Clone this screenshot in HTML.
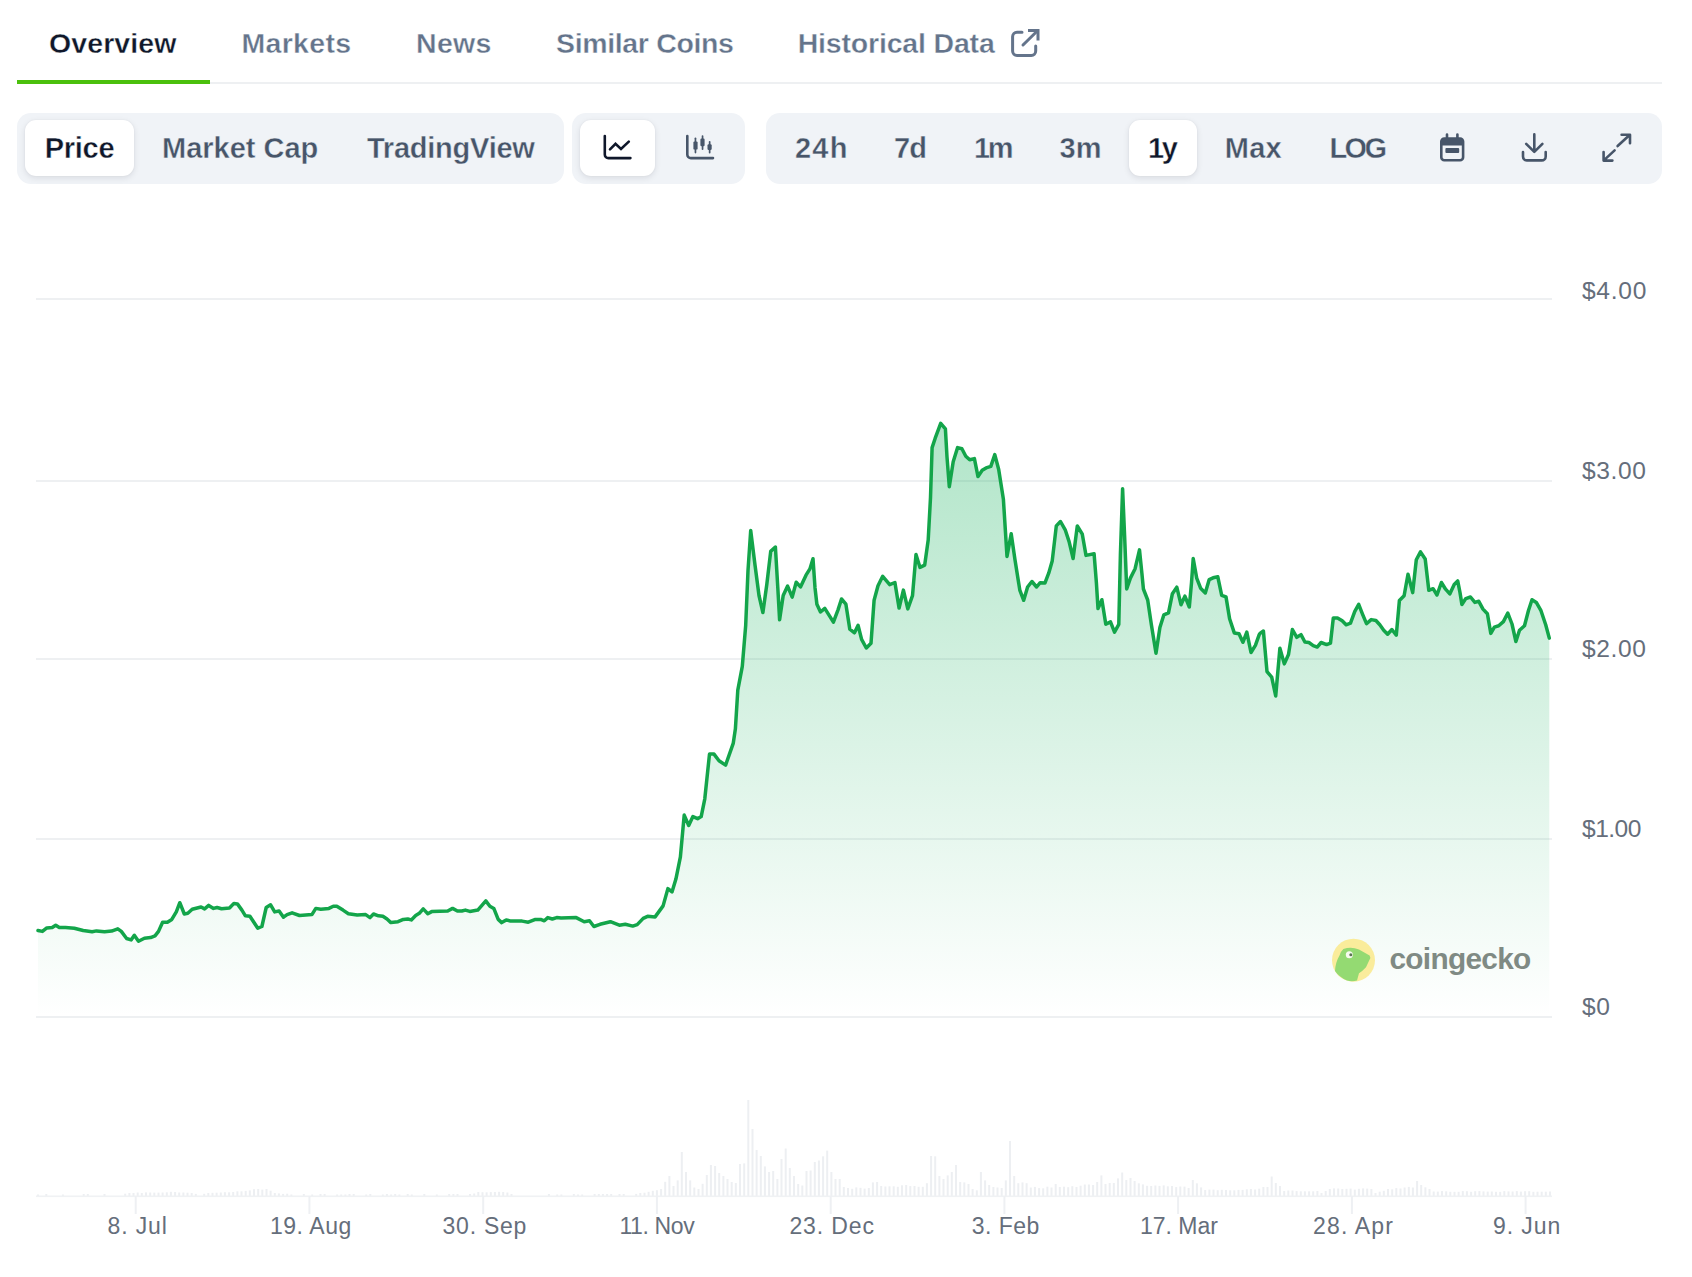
<!DOCTYPE html>
<html><head><meta charset="utf-8">
<style>
html,body{margin:0;padding:0;background:#fff;}
body{width:1692px;height:1277px;position:relative;overflow:hidden;font-family:"Liberation Sans",sans-serif;}
.t{position:absolute;white-space:nowrap;line-height:1;}
.tab{font-size:28.5px;font-weight:700;color:#64748b;top:28.9px;}
.tab.act{color:#0f172a;}
.tab{-webkit-text-stroke:.38px #fff;}
.btn{font-size:29px;font-weight:700;color:#475569;top:134px;}
.btn{-webkit-text-stroke:.38px #f0f3f7;}
.btn.act{color:#0f172a;-webkit-text-stroke:.38px #fff;}
.grp{position:absolute;background:#f0f3f7;border-radius:14px;top:112.6px;height:71.2px;}
.pill{position:absolute;background:#fff;border-radius:11px;top:120px;height:56px;box-shadow:0 2px 6px rgba(15,23,42,.10),0 0 2px rgba(15,23,42,.06);}
.yl{font-size:23.2px;color:#656e7b;left:1581.6px;transform:scaleX(1.06);transform-origin:0 0;}
.xl{font-size:23px;color:#656e7b;top:1214.6px;}
svg{position:absolute;left:0;top:0;}
</style></head><body>
<!-- tabs -->
<div style="position:absolute;left:17px;top:82px;width:1645px;height:2px;background:#eef0f2"></div>
<div style="position:absolute;left:17px;top:80px;width:193px;height:4px;background:#4bc00d"></div>
<div class="t tab act" style="left:49px;letter-spacing:.1px">Overview</div>
<div class="t tab" style="left:241.5px;letter-spacing:.3px">Markets</div>
<div class="t tab" style="left:416px;letter-spacing:.3px">News</div>
<div class="t tab" style="left:556px;letter-spacing:-.35px">Similar Coins</div>
<div class="t tab" style="left:797.7px;letter-spacing:-.18px">Historical Data</div>
<!-- groups -->
<div class="grp" style="left:17.4px;width:546.6px"></div>
<div class="grp" style="left:572.4px;width:172.6px"></div>
<div class="grp" style="left:766.2px;width:895.6px"></div>
<div class="pill" style="left:25px;width:109px"></div>
<div class="pill" style="left:580px;width:75px"></div>
<div class="pill" style="left:1129px;width:68px"></div>
<div class="t btn act" style="left:44.8px;letter-spacing:-.3px">Price</div>
<div class="t btn" style="left:162px;letter-spacing:0px">Market Cap</div>
<div class="t btn" style="left:367px;letter-spacing:-.24px">TradingView</div>
<div class="t btn" style="left:795px;letter-spacing:1.2px">24h</div>
<div class="t btn" style="left:894px;letter-spacing:-1px">7d</div>
<div class="t btn" style="left:974px;letter-spacing:-2.4px">1m</div>
<div class="t btn" style="left:1059.5px;letter-spacing:0px">3m</div>
<div class="t btn act" style="left:1148px;letter-spacing:-2.4px">1y</div>
<div class="t btn" style="left:1224.8px;letter-spacing:.25px">Max</div>
<div class="t btn" style="left:1329.5px;letter-spacing:-2.6px">LOG</div>
<!-- y labels -->
<div class="t yl" style="top:280px;letter-spacing:.66px">$4.00</div>
<div class="t yl" style="top:460.2px;letter-spacing:.57px">$3.00</div>
<div class="t yl" style="top:638.1px;letter-spacing:.57px">$2.00</div>
<div class="t yl" style="top:818.3px;letter-spacing:-.5px">$1.00</div>
<div class="t yl" style="top:996.1px;letter-spacing:.5px">$0</div>
<!-- x labels -->
<div class="t xl" style="left:107.6px;letter-spacing:.86px">8. Jul</div>
<div class="t xl" style="left:269.9px;letter-spacing:.57px">19. Aug</div>
<div class="t xl" style="left:442.6px;letter-spacing:.73px">30. Sep</div>
<div class="t xl" style="left:619.4px;letter-spacing:-.37px">11. Nov</div>
<div class="t xl" style="left:789.4px;letter-spacing:.88px">23. Dec</div>
<div class="t xl" style="left:971.7px;letter-spacing:.46px">3. Feb</div>
<div class="t xl" style="left:1139.9px;letter-spacing:0px">17. Mar</div>
<div class="t xl" style="left:1313.1px;letter-spacing:1.15px">28. Apr</div>
<div class="t xl" style="left:1493px;letter-spacing:.92px">9. Jun</div>
<div class="t" style="left:1389.5px;top:943.8px;font-size:29.8px;font-weight:700;letter-spacing:-.7px;color:#838985">coingecko</div>
<svg width="1692" height="1277" viewBox="0 0 1692 1277">
<defs>
<linearGradient id="ag" x1="0" y1="423" x2="0" y2="1017" gradientUnits="userSpaceOnUse">
<stop offset="0" stop-color="#12b05a" stop-opacity=".33"/>
<stop offset="1" stop-color="#12b05a" stop-opacity="0"/>
</linearGradient>
</defs>
<rect x="36" y="298" width="1516" height="2" fill="#eef0f2"/>
<rect x="36" y="480" width="1516" height="2" fill="#eef0f2"/>
<rect x="36" y="658" width="1516" height="2" fill="#eef0f2"/>
<rect x="36" y="838" width="1516" height="2" fill="#eef0f2"/>
<rect x="36" y="1016" width="1516" height="2" fill="#eef0f2"/>

<path d="M38.0 930.5 L42.4 931.4 L46.8 927.9 L52.2 927.5 L55.7 925.2 L59.3 927.5 L65.5 927.5 L74.3 928.2 L83.2 930.5 L92.1 931.8 L96.5 930.9 L104.5 931.8 L111.6 931.1 L117.8 928.8 L121.3 931.4 L126.6 938.5 L131.1 939.9 L134.3 935.3 L138.5 941.2 L144.4 938.2 L150.6 937.6 L155.0 935.9 L158.5 931.4 L162.6 922.2 L167.4 922.2 L171.8 919.4 L176.3 911.9 L179.8 902.7 L184.3 914.0 L187.8 913.3 L192.2 909.3 L201.1 907.0 L204.6 908.9 L208.7 905.4 L213.5 908.4 L217.1 907.5 L221.5 908.7 L229.5 908.0 L233.9 903.4 L237.4 903.9 L241.9 910.1 L245.4 915.8 L249.9 916.3 L257.8 928.2 L261.9 926.5 L266.2 907.5 L270.6 904.8 L274.7 911.9 L279.1 911.0 L283.5 917.2 L287.1 914.6 L292.1 912.8 L299.5 915.5 L311.9 914.6 L315.8 908.4 L320.8 909.3 L328.9 908.4 L333.3 906.2 L336.8 906.2 L343.0 910.1 L348.4 913.7 L357.2 915.1 L365.7 914.6 L370.0 917.6 L373.5 914.0 L378.5 915.8 L382.9 916.3 L387.0 919.0 L390.9 922.6 L398.0 921.7 L403.3 919.4 L407.8 919.0 L411.3 919.9 L415.7 915.5 L419.3 913.3 L423.2 908.9 L427.8 913.7 L431.7 911.6 L447.7 911.0 L452.6 908.4 L457.4 911.0 L461.8 911.0 L465.4 910.1 L469.8 911.4 L477.8 910.1 L485.8 900.9 L489.9 906.2 L493.8 908.4 L498.2 919.4 L501.7 922.6 L506.2 919.9 L510.6 921.1 L522.1 921.1 L528.3 922.2 L535.4 919.4 L540.7 919.4 L544.3 920.8 L547.8 917.6 L552.3 919.0 L556.7 917.6 L561.1 918.1 L576.2 917.6 L584.2 921.7 L589.5 920.8 L593.9 926.5 L600.0 924.3 L610.4 921.7 L619.3 925.2 L625.3 924.3 L632.7 926.1 L637.2 924.6 L643.2 918.4 L647.6 916.3 L655.1 916.9 L663.1 905.9 L667.9 888.6 L672.0 891.9 L675.9 879.1 L680.4 856.8 L684.2 815.1 L688.7 825.5 L692.9 816.6 L697.6 818.7 L701.2 816.6 L704.8 798.8 L709.5 754.1 L714.0 754.1 L719.0 760.7 L725.6 765.1 L733.3 743.1 L735.4 728.8 L737.8 690.1 L742.3 666.3 L745.7 625.3 L748.0 570.5 L750.7 530.5 L755.1 565.8 L759.0 595.5 L762.9 612.5 L766.8 584.6 L770.7 551.4 L775.4 547.0 L777.8 587.7 L779.6 619.8 L783.2 595.5 L787.6 586.1 L792.2 597.1 L796.2 582.2 L800.5 586.9 L806.0 575.2 L809.9 568.9 L813.0 558.7 L815.0 587.7 L816.9 604.2 L820.5 612.0 L824.8 608.4 L829.5 615.9 L833.4 622.2 L838.1 609.6 L841.5 599.0 L845.9 604.2 L849.8 629.2 L854.5 632.8 L858.1 625.3 L861.6 639.4 L866.3 648.0 L871.0 643.3 L874.1 600.2 L878.0 585.8 L882.7 576.3 L889.7 584.6 L894.9 582.5 L899.1 608.1 L903.4 590.1 L907.8 608.9 L912.5 595.6 L916.0 554.4 L920.0 567.4 L924.7 565.1 L928.2 540.0 L930.5 497.7 L932.1 447.6 L935.2 438.2 L940.7 423.3 L945.4 428.8 L947.0 457.0 L949.3 486.7 L953.2 461.7 L957.6 447.6 L961.9 448.8 L965.8 456.2 L969.7 459.8 L974.4 458.6 L978.0 476.6 L982.2 470.3 L986.1 467.9 L990.8 466.4 L994.8 454.6 L998.7 469.5 L1003.4 499.3 L1007.0 556.4 L1011.2 533.7 L1015.1 560.4 L1019.8 590.1 L1023.7 600.3 L1027.6 587.0 L1031.9 581.5 L1036.6 587.0 L1040.2 582.7 L1044.9 583.1 L1048.8 572.9 L1052.2 561.1 L1054.3 543.1 L1056.3 525.9 L1060.5 521.5 L1065.2 529.8 L1069.1 541.6 L1073.1 558.5 L1077.3 525.9 L1082.3 534.2 L1086.0 555.4 L1094.1 553.8 L1096.4 582.8 L1098.0 608.6 L1101.9 599.7 L1105.8 624.3 L1110.5 621.9 L1114.5 632.1 L1118.8 624.3 L1120.4 554.6 L1122.6 488.8 L1124.6 535.8 L1126.7 589.0 L1130.4 578.1 L1135.1 568.7 L1139.5 549.9 L1141.9 573.4 L1143.4 589.0 L1147.7 600.0 L1151.3 624.3 L1156.0 653.2 L1159.9 627.4 L1163.8 614.9 L1168.5 612.8 L1172.4 593.7 L1176.8 587.1 L1181.0 604.7 L1184.9 596.1 L1189.3 607.0 L1191.5 582.8 L1193.2 558.5 L1196.7 578.1 L1200.6 588.2 L1205.3 592.9 L1209.2 579.6 L1213.1 577.8 L1217.8 576.8 L1221.7 595.3 L1226.0 596.9 L1229.6 618.8 L1234.3 632.9 L1239.0 633.7 L1242.9 642.3 L1246.8 632.1 L1251.0 652.5 L1255.4 645.4 L1259.3 634.4 L1260.0 633.4 L1263.4 631.0 L1267.0 671.7 L1271.7 677.2 L1275.7 696.0 L1279.9 648.2 L1284.3 663.9 L1288.5 654.5 L1292.4 629.5 L1296.8 637.3 L1301.0 634.6 L1304.9 642.0 L1308.9 642.5 L1313.2 645.6 L1317.2 647.1 L1321.1 642.5 L1326.6 644.6 L1330.5 643.1 L1333.3 618.0 L1337.5 618.0 L1342.2 620.8 L1346.1 624.8 L1350.5 623.2 L1354.8 611.4 L1358.7 604.4 L1362.6 614.3 L1366.5 623.7 L1371.2 619.6 L1375.9 620.5 L1379.8 624.8 L1383.7 630.2 L1387.6 634.2 L1391.9 629.5 L1396.3 635.2 L1399.4 600.5 L1404.1 595.8 L1408.0 574.2 L1412.7 592.6 L1416.3 559.8 L1420.5 551.9 L1425.2 559.0 L1428.8 590.3 L1433.1 588.7 L1437.0 595.0 L1441.4 582.5 L1445.6 589.2 L1449.8 593.9 L1454.2 584.5 L1457.7 580.9 L1460.0 592.6 L1461.9 604.4 L1465.8 598.6 L1470.5 597.0 L1474.9 602.4 L1478.8 601.3 L1483.0 609.1 L1487.4 613.8 L1490.8 633.4 L1494.4 627.1 L1498.7 625.8 L1503.4 621.6 L1507.8 613.0 L1512.0 624.0 L1515.9 641.5 L1519.5 630.2 L1524.5 625.8 L1528.4 610.7 L1532.0 599.7 L1536.3 602.4 L1541.0 610.7 L1545.7 624.8 L1549.3 638.1 L1549.3 1017 L38.0 1017 Z" fill="url(#ag)"/>
<path d="M38.0 930.5 L42.4 931.4 L46.8 927.9 L52.2 927.5 L55.7 925.2 L59.3 927.5 L65.5 927.5 L74.3 928.2 L83.2 930.5 L92.1 931.8 L96.5 930.9 L104.5 931.8 L111.6 931.1 L117.8 928.8 L121.3 931.4 L126.6 938.5 L131.1 939.9 L134.3 935.3 L138.5 941.2 L144.4 938.2 L150.6 937.6 L155.0 935.9 L158.5 931.4 L162.6 922.2 L167.4 922.2 L171.8 919.4 L176.3 911.9 L179.8 902.7 L184.3 914.0 L187.8 913.3 L192.2 909.3 L201.1 907.0 L204.6 908.9 L208.7 905.4 L213.5 908.4 L217.1 907.5 L221.5 908.7 L229.5 908.0 L233.9 903.4 L237.4 903.9 L241.9 910.1 L245.4 915.8 L249.9 916.3 L257.8 928.2 L261.9 926.5 L266.2 907.5 L270.6 904.8 L274.7 911.9 L279.1 911.0 L283.5 917.2 L287.1 914.6 L292.1 912.8 L299.5 915.5 L311.9 914.6 L315.8 908.4 L320.8 909.3 L328.9 908.4 L333.3 906.2 L336.8 906.2 L343.0 910.1 L348.4 913.7 L357.2 915.1 L365.7 914.6 L370.0 917.6 L373.5 914.0 L378.5 915.8 L382.9 916.3 L387.0 919.0 L390.9 922.6 L398.0 921.7 L403.3 919.4 L407.8 919.0 L411.3 919.9 L415.7 915.5 L419.3 913.3 L423.2 908.9 L427.8 913.7 L431.7 911.6 L447.7 911.0 L452.6 908.4 L457.4 911.0 L461.8 911.0 L465.4 910.1 L469.8 911.4 L477.8 910.1 L485.8 900.9 L489.9 906.2 L493.8 908.4 L498.2 919.4 L501.7 922.6 L506.2 919.9 L510.6 921.1 L522.1 921.1 L528.3 922.2 L535.4 919.4 L540.7 919.4 L544.3 920.8 L547.8 917.6 L552.3 919.0 L556.7 917.6 L561.1 918.1 L576.2 917.6 L584.2 921.7 L589.5 920.8 L593.9 926.5 L600.0 924.3 L610.4 921.7 L619.3 925.2 L625.3 924.3 L632.7 926.1 L637.2 924.6 L643.2 918.4 L647.6 916.3 L655.1 916.9 L663.1 905.9 L667.9 888.6 L672.0 891.9 L675.9 879.1 L680.4 856.8 L684.2 815.1 L688.7 825.5 L692.9 816.6 L697.6 818.7 L701.2 816.6 L704.8 798.8 L709.5 754.1 L714.0 754.1 L719.0 760.7 L725.6 765.1 L733.3 743.1 L735.4 728.8 L737.8 690.1 L742.3 666.3 L745.7 625.3 L748.0 570.5 L750.7 530.5 L755.1 565.8 L759.0 595.5 L762.9 612.5 L766.8 584.6 L770.7 551.4 L775.4 547.0 L777.8 587.7 L779.6 619.8 L783.2 595.5 L787.6 586.1 L792.2 597.1 L796.2 582.2 L800.5 586.9 L806.0 575.2 L809.9 568.9 L813.0 558.7 L815.0 587.7 L816.9 604.2 L820.5 612.0 L824.8 608.4 L829.5 615.9 L833.4 622.2 L838.1 609.6 L841.5 599.0 L845.9 604.2 L849.8 629.2 L854.5 632.8 L858.1 625.3 L861.6 639.4 L866.3 648.0 L871.0 643.3 L874.1 600.2 L878.0 585.8 L882.7 576.3 L889.7 584.6 L894.9 582.5 L899.1 608.1 L903.4 590.1 L907.8 608.9 L912.5 595.6 L916.0 554.4 L920.0 567.4 L924.7 565.1 L928.2 540.0 L930.5 497.7 L932.1 447.6 L935.2 438.2 L940.7 423.3 L945.4 428.8 L947.0 457.0 L949.3 486.7 L953.2 461.7 L957.6 447.6 L961.9 448.8 L965.8 456.2 L969.7 459.8 L974.4 458.6 L978.0 476.6 L982.2 470.3 L986.1 467.9 L990.8 466.4 L994.8 454.6 L998.7 469.5 L1003.4 499.3 L1007.0 556.4 L1011.2 533.7 L1015.1 560.4 L1019.8 590.1 L1023.7 600.3 L1027.6 587.0 L1031.9 581.5 L1036.6 587.0 L1040.2 582.7 L1044.9 583.1 L1048.8 572.9 L1052.2 561.1 L1054.3 543.1 L1056.3 525.9 L1060.5 521.5 L1065.2 529.8 L1069.1 541.6 L1073.1 558.5 L1077.3 525.9 L1082.3 534.2 L1086.0 555.4 L1094.1 553.8 L1096.4 582.8 L1098.0 608.6 L1101.9 599.7 L1105.8 624.3 L1110.5 621.9 L1114.5 632.1 L1118.8 624.3 L1120.4 554.6 L1122.6 488.8 L1124.6 535.8 L1126.7 589.0 L1130.4 578.1 L1135.1 568.7 L1139.5 549.9 L1141.9 573.4 L1143.4 589.0 L1147.7 600.0 L1151.3 624.3 L1156.0 653.2 L1159.9 627.4 L1163.8 614.9 L1168.5 612.8 L1172.4 593.7 L1176.8 587.1 L1181.0 604.7 L1184.9 596.1 L1189.3 607.0 L1191.5 582.8 L1193.2 558.5 L1196.7 578.1 L1200.6 588.2 L1205.3 592.9 L1209.2 579.6 L1213.1 577.8 L1217.8 576.8 L1221.7 595.3 L1226.0 596.9 L1229.6 618.8 L1234.3 632.9 L1239.0 633.7 L1242.9 642.3 L1246.8 632.1 L1251.0 652.5 L1255.4 645.4 L1259.3 634.4 L1260.0 633.4 L1263.4 631.0 L1267.0 671.7 L1271.7 677.2 L1275.7 696.0 L1279.9 648.2 L1284.3 663.9 L1288.5 654.5 L1292.4 629.5 L1296.8 637.3 L1301.0 634.6 L1304.9 642.0 L1308.9 642.5 L1313.2 645.6 L1317.2 647.1 L1321.1 642.5 L1326.6 644.6 L1330.5 643.1 L1333.3 618.0 L1337.5 618.0 L1342.2 620.8 L1346.1 624.8 L1350.5 623.2 L1354.8 611.4 L1358.7 604.4 L1362.6 614.3 L1366.5 623.7 L1371.2 619.6 L1375.9 620.5 L1379.8 624.8 L1383.7 630.2 L1387.6 634.2 L1391.9 629.5 L1396.3 635.2 L1399.4 600.5 L1404.1 595.8 L1408.0 574.2 L1412.7 592.6 L1416.3 559.8 L1420.5 551.9 L1425.2 559.0 L1428.8 590.3 L1433.1 588.7 L1437.0 595.0 L1441.4 582.5 L1445.6 589.2 L1449.8 593.9 L1454.2 584.5 L1457.7 580.9 L1460.0 592.6 L1461.9 604.4 L1465.8 598.6 L1470.5 597.0 L1474.9 602.4 L1478.8 601.3 L1483.0 609.1 L1487.4 613.8 L1490.8 633.4 L1494.4 627.1 L1498.7 625.8 L1503.4 621.6 L1507.8 613.0 L1512.0 624.0 L1515.9 641.5 L1519.5 630.2 L1524.5 625.8 L1528.4 610.7 L1532.0 599.7 L1536.3 602.4 L1541.0 610.7 L1545.7 624.8 L1549.3 638.1" fill="none" stroke="#13a54a" stroke-width="3.5" stroke-linejoin="round" stroke-linecap="round"/>

<g fill="#edeff2">
<rect x="37.0" y="1194.5" width="2" height="1.5"/>
<rect x="45.3" y="1194.0" width="2" height="2.0"/>
<rect x="61.9" y="1194.5" width="2" height="1.5"/>
<rect x="82.7" y="1194.0" width="2" height="2.0"/>
<rect x="86.8" y="1194.0" width="2" height="2.0"/>
<rect x="103.5" y="1194.0" width="2" height="2.0"/>
<rect x="124.2" y="1193.7" width="2" height="2.3"/>
<rect x="128.4" y="1193.0" width="2" height="3.0"/>
<rect x="132.5" y="1193.0" width="2" height="3.0"/>
<rect x="136.7" y="1192.5" width="2" height="3.5"/>
<rect x="140.8" y="1193.0" width="2" height="3.0"/>
<rect x="145.0" y="1192.4" width="2" height="3.6"/>
<rect x="149.2" y="1192.5" width="2" height="3.5"/>
<rect x="153.3" y="1192.6" width="2" height="3.4"/>
<rect x="157.5" y="1192.6" width="2" height="3.4"/>
<rect x="161.6" y="1192.5" width="2" height="3.5"/>
<rect x="165.8" y="1192.3" width="2" height="3.7"/>
<rect x="169.9" y="1191.8" width="2" height="4.2"/>
<rect x="174.1" y="1192.0" width="2" height="4.0"/>
<rect x="178.2" y="1192.5" width="2" height="3.5"/>
<rect x="182.4" y="1192.5" width="2" height="3.5"/>
<rect x="186.5" y="1192.7" width="2" height="3.3"/>
<rect x="190.7" y="1193.0" width="2" height="3.0"/>
<rect x="194.8" y="1193.9" width="2" height="2.1"/>
<rect x="203.2" y="1193.8" width="2" height="2.2"/>
<rect x="207.3" y="1193.0" width="2" height="3.0"/>
<rect x="211.5" y="1192.8" width="2" height="3.2"/>
<rect x="215.6" y="1192.7" width="2" height="3.3"/>
<rect x="219.8" y="1192.5" width="2" height="3.5"/>
<rect x="223.9" y="1192.2" width="2" height="3.8"/>
<rect x="228.1" y="1192.3" width="2" height="3.7"/>
<rect x="232.2" y="1192.0" width="2" height="4.0"/>
<rect x="236.4" y="1191.3" width="2" height="4.7"/>
<rect x="240.5" y="1191.3" width="2" height="4.7"/>
<rect x="244.7" y="1190.9" width="2" height="5.1"/>
<rect x="248.8" y="1190.4" width="2" height="5.6"/>
<rect x="253.0" y="1189.2" width="2" height="6.8"/>
<rect x="257.2" y="1189.0" width="2" height="7.0"/>
<rect x="261.3" y="1189.6" width="2" height="6.4"/>
<rect x="265.5" y="1189.0" width="2" height="7.0"/>
<rect x="269.6" y="1190.7" width="2" height="5.3"/>
<rect x="273.8" y="1193.0" width="2" height="3.0"/>
<rect x="277.9" y="1193.4" width="2" height="2.6"/>
<rect x="282.1" y="1193.9" width="2" height="2.1"/>
<rect x="286.2" y="1193.7" width="2" height="2.3"/>
<rect x="290.4" y="1194.5" width="2" height="1.5"/>
<rect x="302.8" y="1194.0" width="2" height="2.0"/>
<rect x="311.2" y="1194.5" width="2" height="1.5"/>
<rect x="319.5" y="1194.0" width="2" height="2.0"/>
<rect x="323.6" y="1194.0" width="2" height="2.0"/>
<rect x="336.1" y="1194.5" width="2" height="1.5"/>
<rect x="340.2" y="1194.5" width="2" height="1.5"/>
<rect x="344.4" y="1194.5" width="2" height="1.5"/>
<rect x="348.5" y="1194.0" width="2" height="2.0"/>
<rect x="352.7" y="1194.0" width="2" height="2.0"/>
<rect x="365.2" y="1194.5" width="2" height="1.5"/>
<rect x="369.3" y="1194.0" width="2" height="2.0"/>
<rect x="381.8" y="1194.5" width="2" height="1.5"/>
<rect x="385.9" y="1194.0" width="2" height="2.0"/>
<rect x="390.1" y="1194.5" width="2" height="1.5"/>
<rect x="394.2" y="1194.0" width="2" height="2.0"/>
<rect x="398.4" y="1194.5" width="2" height="1.5"/>
<rect x="406.7" y="1194.0" width="2" height="2.0"/>
<rect x="410.8" y="1194.5" width="2" height="1.5"/>
<rect x="423.3" y="1194.0" width="2" height="2.0"/>
<rect x="435.8" y="1194.5" width="2" height="1.5"/>
<rect x="448.2" y="1194.0" width="2" height="2.0"/>
<rect x="452.4" y="1194.0" width="2" height="2.0"/>
<rect x="456.5" y="1194.0" width="2" height="2.0"/>
<rect x="469.0" y="1194.0" width="2" height="2.0"/>
<rect x="473.2" y="1193.5" width="2" height="2.5"/>
<rect x="477.3" y="1192.0" width="2" height="4.0"/>
<rect x="481.5" y="1192.2" width="2" height="3.8"/>
<rect x="485.6" y="1192.3" width="2" height="3.7"/>
<rect x="489.8" y="1192.1" width="2" height="3.9"/>
<rect x="493.9" y="1192.0" width="2" height="4.0"/>
<rect x="498.1" y="1191.8" width="2" height="4.2"/>
<rect x="502.2" y="1192.0" width="2" height="4.0"/>
<rect x="506.4" y="1192.5" width="2" height="3.5"/>
<rect x="510.5" y="1194.0" width="2" height="2.0"/>
<rect x="547.9" y="1194.0" width="2" height="2.0"/>
<rect x="556.2" y="1194.5" width="2" height="1.5"/>
<rect x="560.4" y="1194.5" width="2" height="1.5"/>
<rect x="572.8" y="1194.0" width="2" height="2.0"/>
<rect x="577.0" y="1194.5" width="2" height="1.5"/>
<rect x="581.2" y="1194.5" width="2" height="1.5"/>
<rect x="593.6" y="1194.0" width="2" height="2.0"/>
<rect x="597.8" y="1194.0" width="2" height="2.0"/>
<rect x="601.9" y="1194.0" width="2" height="2.0"/>
<rect x="606.1" y="1194.0" width="2" height="2.0"/>
<rect x="610.2" y="1194.0" width="2" height="2.0"/>
<rect x="618.5" y="1194.0" width="2" height="2.0"/>
<rect x="622.7" y="1194.0" width="2" height="2.0"/>
<rect x="635.2" y="1193.9" width="2" height="2.1"/>
<rect x="639.3" y="1193.0" width="2" height="3.0"/>
<rect x="643.5" y="1192.7" width="2" height="3.3"/>
<rect x="647.6" y="1191.8" width="2" height="4.2"/>
<rect x="651.8" y="1190.8" width="2" height="5.2"/>
<rect x="655.9" y="1190.2" width="2" height="5.8"/>
<rect x="660.1" y="1189.0" width="2" height="7.0"/>
<rect x="664.2" y="1181.8" width="2" height="14.2"/>
<rect x="668.4" y="1176.0" width="2" height="20.0"/>
<rect x="672.5" y="1186.0" width="2" height="10.0"/>
<rect x="676.7" y="1180.4" width="2" height="15.6"/>
<rect x="680.8" y="1152.0" width="2" height="44.0"/>
<rect x="685.0" y="1172.0" width="2" height="24.0"/>
<rect x="689.2" y="1180.4" width="2" height="15.6"/>
<rect x="693.3" y="1187.5" width="2" height="8.5"/>
<rect x="697.5" y="1189.0" width="2" height="7.0"/>
<rect x="701.6" y="1183.8" width="2" height="12.2"/>
<rect x="705.8" y="1175.0" width="2" height="21.0"/>
<rect x="709.9" y="1165.0" width="2" height="31.0"/>
<rect x="714.1" y="1166.0" width="2" height="30.0"/>
<rect x="718.2" y="1173.0" width="2" height="23.0"/>
<rect x="722.4" y="1176.0" width="2" height="20.0"/>
<rect x="726.5" y="1179.0" width="2" height="17.0"/>
<rect x="730.7" y="1182.0" width="2" height="14.0"/>
<rect x="734.8" y="1183.0" width="2" height="13.0"/>
<rect x="739.0" y="1164.0" width="2" height="32.0"/>
<rect x="743.2" y="1163.4" width="2" height="32.6"/>
<rect x="747.3" y="1100.0" width="2" height="96.0"/>
<rect x="751.5" y="1129.0" width="2" height="67.0"/>
<rect x="755.6" y="1150.0" width="2" height="46.0"/>
<rect x="759.8" y="1156.0" width="2" height="40.0"/>
<rect x="763.9" y="1166.4" width="2" height="29.6"/>
<rect x="768.1" y="1172.0" width="2" height="24.0"/>
<rect x="772.2" y="1171.0" width="2" height="25.0"/>
<rect x="776.4" y="1179.0" width="2" height="17.0"/>
<rect x="780.5" y="1159.0" width="2" height="37.0"/>
<rect x="784.7" y="1148.5" width="2" height="47.5"/>
<rect x="788.8" y="1168.0" width="2" height="28.0"/>
<rect x="793.0" y="1176.0" width="2" height="20.0"/>
<rect x="797.2" y="1184.0" width="2" height="12.0"/>
<rect x="801.3" y="1185.5" width="2" height="10.5"/>
<rect x="805.5" y="1171.0" width="2" height="25.0"/>
<rect x="809.6" y="1170.5" width="2" height="25.5"/>
<rect x="813.8" y="1162.0" width="2" height="34.0"/>
<rect x="817.9" y="1160.5" width="2" height="35.5"/>
<rect x="822.1" y="1156.3" width="2" height="39.7"/>
<rect x="826.2" y="1150.6" width="2" height="45.4"/>
<rect x="830.4" y="1172.0" width="2" height="24.0"/>
<rect x="834.5" y="1179.0" width="2" height="17.0"/>
<rect x="838.7" y="1179.0" width="2" height="17.0"/>
<rect x="842.8" y="1187.0" width="2" height="9.0"/>
<rect x="847.0" y="1188.0" width="2" height="8.0"/>
<rect x="851.2" y="1188.8" width="2" height="7.2"/>
<rect x="855.3" y="1187.4" width="2" height="8.6"/>
<rect x="859.5" y="1187.8" width="2" height="8.2"/>
<rect x="863.6" y="1188.6" width="2" height="7.4"/>
<rect x="867.8" y="1188.0" width="2" height="8.0"/>
<rect x="871.9" y="1182.4" width="2" height="13.6"/>
<rect x="876.1" y="1182.0" width="2" height="14.0"/>
<rect x="880.2" y="1186.0" width="2" height="10.0"/>
<rect x="884.4" y="1186.5" width="2" height="9.5"/>
<rect x="888.5" y="1186.3" width="2" height="9.7"/>
<rect x="892.7" y="1186.3" width="2" height="9.7"/>
<rect x="896.8" y="1186.8" width="2" height="9.2"/>
<rect x="901.0" y="1185.3" width="2" height="10.7"/>
<rect x="905.2" y="1185.0" width="2" height="11.0"/>
<rect x="909.3" y="1186.1" width="2" height="9.9"/>
<rect x="913.5" y="1186.0" width="2" height="10.0"/>
<rect x="917.6" y="1186.8" width="2" height="9.2"/>
<rect x="921.8" y="1186.8" width="2" height="9.2"/>
<rect x="925.9" y="1183.2" width="2" height="12.8"/>
<rect x="930.1" y="1156.0" width="2" height="40.0"/>
<rect x="934.2" y="1156.3" width="2" height="39.7"/>
<rect x="938.4" y="1176.0" width="2" height="20.0"/>
<rect x="942.5" y="1179.0" width="2" height="17.0"/>
<rect x="946.7" y="1175.4" width="2" height="20.6"/>
<rect x="950.8" y="1172.0" width="2" height="24.0"/>
<rect x="955.0" y="1165.0" width="2" height="31.0"/>
<rect x="959.2" y="1182.0" width="2" height="14.0"/>
<rect x="963.3" y="1182.4" width="2" height="13.6"/>
<rect x="967.5" y="1184.0" width="2" height="12.0"/>
<rect x="971.6" y="1189.0" width="2" height="7.0"/>
<rect x="975.8" y="1190.3" width="2" height="5.7"/>
<rect x="979.9" y="1172.0" width="2" height="24.0"/>
<rect x="984.1" y="1180.4" width="2" height="15.6"/>
<rect x="988.2" y="1185.0" width="2" height="11.0"/>
<rect x="992.4" y="1187.0" width="2" height="9.0"/>
<rect x="996.5" y="1187.5" width="2" height="8.5"/>
<rect x="1000.7" y="1188.0" width="2" height="8.0"/>
<rect x="1004.8" y="1180.4" width="2" height="15.6"/>
<rect x="1009.0" y="1141.0" width="2" height="55.0"/>
<rect x="1013.2" y="1176.0" width="2" height="20.0"/>
<rect x="1017.3" y="1183.2" width="2" height="12.8"/>
<rect x="1021.5" y="1182.4" width="2" height="13.6"/>
<rect x="1025.6" y="1183.2" width="2" height="12.8"/>
<rect x="1029.8" y="1187.5" width="2" height="8.5"/>
<rect x="1033.9" y="1186.9" width="2" height="9.1"/>
<rect x="1038.1" y="1188.1" width="2" height="7.9"/>
<rect x="1042.2" y="1188.3" width="2" height="7.7"/>
<rect x="1046.4" y="1186.7" width="2" height="9.3"/>
<rect x="1050.5" y="1187.5" width="2" height="8.5"/>
<rect x="1054.7" y="1184.0" width="2" height="12.0"/>
<rect x="1058.8" y="1187.0" width="2" height="9.0"/>
<rect x="1063.0" y="1186.7" width="2" height="9.3"/>
<rect x="1067.2" y="1187.2" width="2" height="8.8"/>
<rect x="1071.3" y="1186.2" width="2" height="9.8"/>
<rect x="1075.5" y="1187.0" width="2" height="9.0"/>
<rect x="1079.6" y="1185.7" width="2" height="10.3"/>
<rect x="1083.8" y="1184.5" width="2" height="11.5"/>
<rect x="1087.9" y="1184.5" width="2" height="11.5"/>
<rect x="1092.1" y="1185.0" width="2" height="11.0"/>
<rect x="1096.2" y="1182.0" width="2" height="14.0"/>
<rect x="1100.4" y="1175.4" width="2" height="20.6"/>
<rect x="1104.5" y="1184.0" width="2" height="12.0"/>
<rect x="1108.7" y="1183.0" width="2" height="13.0"/>
<rect x="1112.8" y="1183.0" width="2" height="13.0"/>
<rect x="1117.0" y="1178.4" width="2" height="17.6"/>
<rect x="1121.2" y="1172.5" width="2" height="23.5"/>
<rect x="1125.3" y="1180.0" width="2" height="16.0"/>
<rect x="1129.5" y="1178.0" width="2" height="18.0"/>
<rect x="1133.6" y="1181.0" width="2" height="15.0"/>
<rect x="1137.8" y="1183.3" width="2" height="12.7"/>
<rect x="1141.9" y="1184.4" width="2" height="11.6"/>
<rect x="1146.1" y="1185.8" width="2" height="10.2"/>
<rect x="1150.2" y="1186.0" width="2" height="10.0"/>
<rect x="1154.4" y="1185.5" width="2" height="10.5"/>
<rect x="1158.5" y="1185.9" width="2" height="10.1"/>
<rect x="1162.7" y="1185.4" width="2" height="10.6"/>
<rect x="1166.8" y="1186.3" width="2" height="9.7"/>
<rect x="1171.0" y="1186.0" width="2" height="10.0"/>
<rect x="1175.2" y="1187.1" width="2" height="8.9"/>
<rect x="1179.3" y="1186.5" width="2" height="9.5"/>
<rect x="1183.5" y="1186.6" width="2" height="9.4"/>
<rect x="1187.6" y="1188.0" width="2" height="8.0"/>
<rect x="1191.8" y="1180.0" width="2" height="16.0"/>
<rect x="1195.9" y="1183.3" width="2" height="12.7"/>
<rect x="1200.1" y="1187.4" width="2" height="8.6"/>
<rect x="1204.2" y="1190.0" width="2" height="6.0"/>
<rect x="1208.4" y="1189.6" width="2" height="6.4"/>
<rect x="1212.5" y="1189.6" width="2" height="6.4"/>
<rect x="1216.7" y="1190.2" width="2" height="5.8"/>
<rect x="1220.8" y="1189.8" width="2" height="6.2"/>
<rect x="1225.0" y="1190.0" width="2" height="6.0"/>
<rect x="1229.2" y="1190.3" width="2" height="5.7"/>
<rect x="1233.3" y="1190.3" width="2" height="5.7"/>
<rect x="1237.5" y="1189.9" width="2" height="6.1"/>
<rect x="1241.6" y="1189.9" width="2" height="6.1"/>
<rect x="1245.8" y="1189.3" width="2" height="6.7"/>
<rect x="1249.9" y="1189.0" width="2" height="7.0"/>
<rect x="1254.1" y="1189.5" width="2" height="6.5"/>
<rect x="1258.2" y="1188.7" width="2" height="7.3"/>
<rect x="1262.4" y="1187.0" width="2" height="9.0"/>
<rect x="1266.5" y="1187.0" width="2" height="9.0"/>
<rect x="1270.7" y="1176.5" width="2" height="19.5"/>
<rect x="1274.8" y="1183.0" width="2" height="13.0"/>
<rect x="1279.0" y="1186.0" width="2" height="10.0"/>
<rect x="1283.2" y="1191.0" width="2" height="5.0"/>
<rect x="1287.3" y="1190.5" width="2" height="5.5"/>
<rect x="1291.5" y="1190.5" width="2" height="5.5"/>
<rect x="1295.6" y="1191.1" width="2" height="4.9"/>
<rect x="1299.8" y="1191.3" width="2" height="4.7"/>
<rect x="1303.9" y="1191.3" width="2" height="4.7"/>
<rect x="1308.1" y="1191.3" width="2" height="4.7"/>
<rect x="1312.2" y="1191.3" width="2" height="4.7"/>
<rect x="1316.4" y="1191.0" width="2" height="5.0"/>
<rect x="1320.5" y="1193.0" width="2" height="3.0"/>
<rect x="1324.7" y="1191.0" width="2" height="5.0"/>
<rect x="1328.8" y="1189.0" width="2" height="7.0"/>
<rect x="1333.0" y="1188.4" width="2" height="7.6"/>
<rect x="1337.2" y="1188.5" width="2" height="7.5"/>
<rect x="1341.3" y="1189.0" width="2" height="7.0"/>
<rect x="1345.5" y="1188.8" width="2" height="7.2"/>
<rect x="1349.6" y="1188.6" width="2" height="7.4"/>
<rect x="1353.8" y="1189.6" width="2" height="6.4"/>
<rect x="1357.9" y="1188.8" width="2" height="7.2"/>
<rect x="1362.1" y="1188.4" width="2" height="7.6"/>
<rect x="1366.2" y="1188.6" width="2" height="7.4"/>
<rect x="1370.4" y="1189.0" width="2" height="7.0"/>
<rect x="1374.5" y="1193.0" width="2" height="3.0"/>
<rect x="1378.7" y="1191.7" width="2" height="4.3"/>
<rect x="1382.8" y="1190.8" width="2" height="5.2"/>
<rect x="1387.0" y="1189.0" width="2" height="7.0"/>
<rect x="1391.2" y="1189.3" width="2" height="6.7"/>
<rect x="1395.3" y="1188.1" width="2" height="7.9"/>
<rect x="1399.5" y="1188.5" width="2" height="7.5"/>
<rect x="1403.6" y="1187.5" width="2" height="8.5"/>
<rect x="1407.8" y="1186.9" width="2" height="9.1"/>
<rect x="1411.9" y="1187.5" width="2" height="8.5"/>
<rect x="1416.1" y="1181.0" width="2" height="15.0"/>
<rect x="1420.2" y="1185.0" width="2" height="11.0"/>
<rect x="1424.4" y="1187.3" width="2" height="8.7"/>
<rect x="1428.5" y="1189.0" width="2" height="7.0"/>
<rect x="1432.7" y="1191.5" width="2" height="4.5"/>
<rect x="1436.8" y="1191.6" width="2" height="4.4"/>
<rect x="1441.0" y="1191.1" width="2" height="4.9"/>
<rect x="1445.2" y="1191.3" width="2" height="4.7"/>
<rect x="1449.3" y="1191.8" width="2" height="4.2"/>
<rect x="1453.5" y="1191.8" width="2" height="4.2"/>
<rect x="1457.6" y="1191.8" width="2" height="4.2"/>
<rect x="1461.8" y="1191.1" width="2" height="4.9"/>
<rect x="1465.9" y="1191.2" width="2" height="4.8"/>
<rect x="1470.1" y="1191.8" width="2" height="4.2"/>
<rect x="1474.2" y="1191.2" width="2" height="4.8"/>
<rect x="1478.4" y="1191.1" width="2" height="4.9"/>
<rect x="1482.5" y="1191.4" width="2" height="4.6"/>
<rect x="1486.7" y="1191.6" width="2" height="4.4"/>
<rect x="1490.8" y="1191.5" width="2" height="4.5"/>
<rect x="1495.0" y="1191.8" width="2" height="4.2"/>
<rect x="1499.2" y="1191.9" width="2" height="4.1"/>
<rect x="1503.3" y="1191.1" width="2" height="4.9"/>
<rect x="1507.5" y="1191.4" width="2" height="4.6"/>
<rect x="1511.6" y="1191.5" width="2" height="4.5"/>
<rect x="1515.8" y="1191.1" width="2" height="4.9"/>
<rect x="1519.9" y="1191.6" width="2" height="4.4"/>
<rect x="1524.1" y="1191.2" width="2" height="4.8"/>
<rect x="1528.2" y="1191.2" width="2" height="4.8"/>
<rect x="1532.4" y="1191.8" width="2" height="4.2"/>
<rect x="1536.5" y="1191.7" width="2" height="4.3"/>
<rect x="1540.7" y="1191.7" width="2" height="4.3"/>
<rect x="1544.8" y="1191.7" width="2" height="4.3"/>
<rect x="1549.0" y="1191.5" width="2" height="4.5"/>
</g>
<rect x="36" y="1195.5" width="1516" height="1.6" fill="#f0f2f4"/>
<rect x="134.7" y="1196" width="2" height="18" fill="#eef0f3"/>
<rect x="308.4" y="1196" width="2" height="18" fill="#eef0f3"/>
<rect x="482.2" y="1196" width="2" height="18" fill="#eef0f3"/>
<rect x="655.9" y="1196" width="2" height="18" fill="#eef0f3"/>
<rect x="829.7" y="1196" width="2" height="18" fill="#eef0f3"/>
<rect x="1003.4" y="1196" width="2" height="18" fill="#eef0f3"/>
<rect x="1177.1" y="1196" width="2" height="18" fill="#eef0f3"/>
<rect x="1350.9" y="1196" width="2" height="18" fill="#eef0f3"/>
<rect x="1524.6" y="1196" width="2" height="18" fill="#eef0f3"/>
<!-- external link -->
<g fill="none" stroke="#64748b" stroke-width="3" stroke-linecap="round" stroke-linejoin="round">
<path d="M1022 32.3 H1017 a4.4 4.4 0 0 0 -4.4 4.4 V51 a4.4 4.4 0 0 0 4.4 4.4 H1031.3 a4.4 4.4 0 0 0 4.4 -4.4 V46"/>
<path d="M1023 45 L1037.5 30.8"/>
<path d="M1028 30.6 H1038 V40.6" stroke-linecap="butt" stroke-linejoin="miter"/>
</g>
<!-- line chart icon -->
<g fill="none" stroke="#0f172a" stroke-width="2.6" stroke-linecap="round" stroke-linejoin="round">
<path d="M604.8 136 V154.5 a3.6 3.6 0 0 0 3.6 3.6 H630.4"/>
<path d="M610 149.3 L615.5 143.8 L621 149 L628.8 141.6" stroke-linejoin="miter"/>
</g>
<!-- candle icon -->
<g fill="none" stroke="#475569" stroke-width="2.6" stroke-linecap="round" stroke-linejoin="round">
<path d="M687.3 136 V154.5 a3.6 3.6 0 0 0 3.6 3.6 H713"/>
</g>
<g fill="#475569" stroke="none">
<rect x="694.6" y="137.4" width="1.7" height="16" rx=".8"/><rect x="693.4" y="141.4" width="4.2" height="8.2" rx="1.2"/>
<rect x="701.7" y="135.3" width="1.7" height="14.8" rx=".8"/><rect x="700.4" y="138.6" width="4.2" height="7.6" rx="1.2"/>
<rect x="708.8" y="141" width="1.7" height="12.6" rx=".8"/><rect x="707.5" y="144.2" width="4.2" height="5.8" rx="1.2"/>
</g>
<!-- calendar -->
<g fill="none" stroke="#475569" stroke-width="2.6" stroke-linecap="round" stroke-linejoin="round">
<rect x="1441.3" y="138.6" width="21.8" height="21.6" rx="3"/>
<path d="M1447 134.6 V138 M1457.4 134.6 V138"/>
</g>
<path d="M1441.3 145.6 V141.6 a3 3 0 0 1 3 -3 H1460.1 a3 3 0 0 1 3 3 V145.6 Z" fill="#475569"/>
<rect x="1445.4" y="147.9" width="13.8" height="5" rx="1" fill="#475569"/>
<!-- download -->
<g fill="none" stroke="#475569" stroke-width="2.6" stroke-linecap="round" stroke-linejoin="round">
<path d="M1534.3 134.4 V151.6 M1526.2 143.8 L1534.3 151.9 L1542.4 143.8"/>
<path d="M1523 152 V156.4 a4 4 0 0 0 4 4 H1541.7 a4 4 0 0 0 4 -4 V152"/>
</g>
<!-- expand -->
<g fill="none" stroke="#475569" stroke-width="2.6" stroke-linecap="round" stroke-linejoin="round">
<path d="M1617.6 146 L1629.6 135 M1621.6 134.8 H1630 V143.2"/>
<path d="M1614.6 150.4 L1603.8 160.4 M1603.6 152 V160.6 H1612.4"/>
</g>
<!-- coingecko watermark -->
<g opacity=".92">
<circle cx="1353.5" cy="960.2" r="21.5" fill="#fbeb94"/>
<path d="M1343.4 949 Q1351 946.5 1359 949.4 L1369.6 955.6 Q1371 957.4 1369.4 960 L1366 967.2 Q1362 971.5 1359 973.2 L1357 980.5 Q1352 982 1347 980.6 Q1339 977 1335 971 Q1335.5 962 1339.5 955.5 Q1341 951 1343.4 949 Z" fill="#8cd867"/>
<circle cx="1349.3" cy="954.8" r="3.5" fill="#f7fbef"/>
<circle cx="1350.8" cy="954.8" r="1.5" fill="#4f6a47"/>
</g>

</svg>
</body></html>
